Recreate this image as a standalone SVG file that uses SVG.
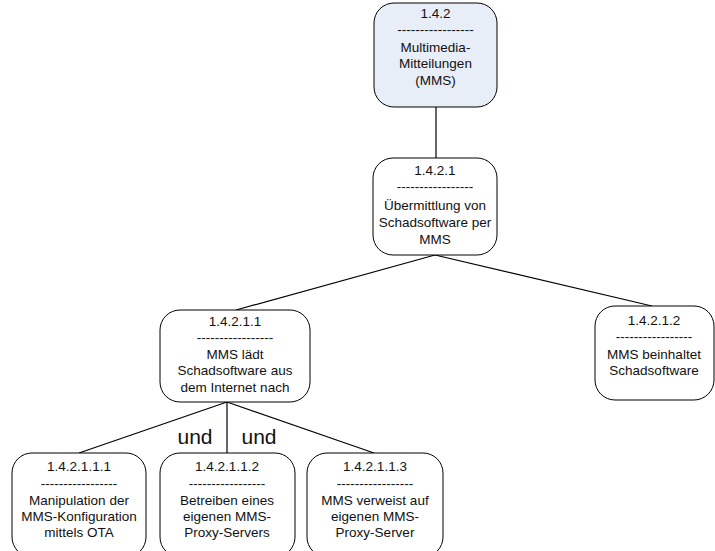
<svg xmlns="http://www.w3.org/2000/svg" width="715" height="551" viewBox="0 0 715 551">
  <style>
    .box { fill: #ffffff; stroke: #000000; stroke-width: 1; }
    .root { fill: #e8eef8; }
    .edge { stroke: #000000; stroke-width: 1.2; fill: none; }
    text { font-family: "Liberation Sans", Arial, sans-serif; font-size: 13.5px; fill: #111111; text-anchor: middle; }
    .op { font-size: 21px; }
  </style>
  <rect width="715" height="551" fill="#ffffff"/>

  <g id="connectors">
    <line class="edge" x1="436" y1="107" x2="436" y2="158"/>
    <line class="edge" x1="435" y1="255" x2="236" y2="310"/>
    <line class="edge" x1="435" y1="255" x2="652" y2="306"/>
    <line class="edge" x1="227" y1="402" x2="79" y2="453"/>
    <line class="edge" x1="227" y1="402" x2="227" y2="453"/>
    <line class="edge" x1="227" y1="402" x2="374" y2="453"/>
    <text class="op" x="195" y="444">und</text>
    <text class="op" x="259" y="444">und</text>
  </g>

  <g id="n142">
    <rect class="box root" x="374" y="3" width="123" height="104" rx="20" ry="20"/>
    <text x="435.5" y="18">1.4.2</text>
    <text x="435.5" y="34">-----------------</text>
    <text x="435.5" y="52">Multimedia-</text>
    <text x="435.5" y="68">Mitteilungen</text>
    <text x="435.5" y="85">(MMS)</text>
  </g>

  <g id="n1421">
    <rect class="box" x="373" y="158" width="124" height="97" rx="20" ry="20"/>
    <text x="435" y="175">1.4.2.1</text>
    <text x="435" y="191">-----------------</text>
    <text x="435" y="210">Übermittlung von</text>
    <text x="435" y="227">Schadsoftware per</text>
    <text x="435" y="244">MMS</text>
  </g>

  <g id="n14211">
    <rect class="box" x="160" y="310" width="150" height="92" rx="20" ry="20"/>
    <text x="235" y="326">1.4.2.1.1</text>
    <text x="235" y="342">-----------------</text>
    <text x="235" y="359">MMS lädt</text>
    <text x="235" y="375">Schadsoftware aus</text>
    <text x="235" y="392">dem Internet nach</text>
  </g>

  <g id="n14212">
    <rect class="box" x="595" y="306" width="119" height="94" rx="20" ry="20"/>
    <text x="654" y="325">1.4.2.1.2</text>
    <text x="654" y="341">-----------------</text>
    <text x="654" y="359">MMS beinhaltet</text>
    <text x="654" y="375">Schadsoftware</text>
  </g>

  <g id="n142111">
    <rect class="box" x="12" y="453" width="134" height="104" rx="20" ry="20"/>
    <text x="79" y="471">1.4.2.1.1.1</text>
    <text x="79" y="488">-----------------</text>
    <text x="79" y="505">Manipulation der</text>
    <text x="79" y="521">MMS-Konfiguration</text>
    <text x="79" y="537">mittels OTA</text>
  </g>

  <g id="n142112">
    <rect class="box" x="160" y="453" width="135" height="104" rx="20" ry="20"/>
    <text x="227" y="471">1.4.2.1.1.2</text>
    <text x="227" y="488">-----------------</text>
    <text x="227" y="505">Betreiben eines</text>
    <text x="227" y="521">eigenen MMS-</text>
    <text x="227" y="537">Proxy-Servers</text>
  </g>

  <g id="n142113">
    <rect class="box" x="307" y="453" width="136" height="104" rx="20" ry="20"/>
    <text x="375" y="471">1.4.2.1.1.3</text>
    <text x="375" y="488">-----------------</text>
    <text x="375" y="505">MMS verweist auf</text>
    <text x="375" y="521">eigenen MMS-</text>
    <text x="375" y="537">Proxy-Server</text>
  </g>
</svg>
